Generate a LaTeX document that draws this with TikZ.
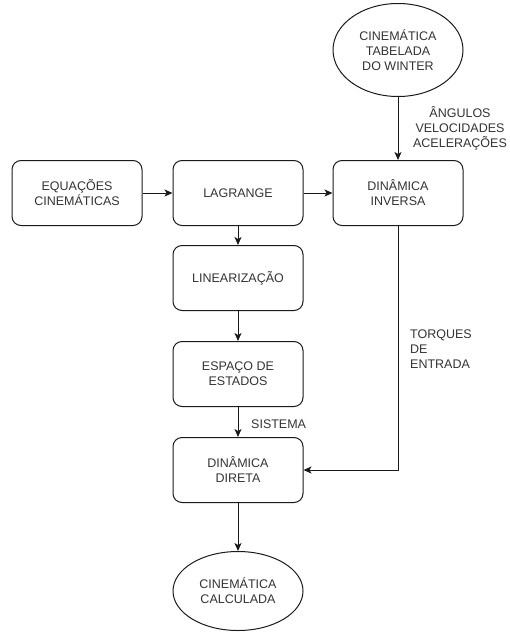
\documentclass[tikz,border=0pt]{standalone}
\usepackage{fontspec}
\setmainfont{Liberation Sans}
\usetikzlibrary{shapes.geometric,arrows.meta}
\definecolor{txt}{HTML}{333333}
\definecolor{ln}{HTML}{1A1A1A}
\tikzset{
  box/.style={draw=ln, line width=1pt, rounded corners=9pt, minimum width=130pt, minimum height=65pt, align=center, text=txt, font=\fontsize{12.5}{15}\selectfont, inner sep=0pt},
  oval/.style={draw=ln, line width=1pt, ellipse, minimum width=130pt, align=center, text=txt, font=\fontsize{12.5}{15}\selectfont, inner sep=0pt},
  conn/.style={draw=ln, line width=1pt, -{Stealth[length=8pt,width=7pt,inset=2pt]}},
  lbl/.style={text=txt, font=\fontsize{12.5}{15}\selectfont, inner sep=0pt}
}
\begin{document}
\begin{tikzpicture}[x=1pt,y=-1pt]
\useasboundingbox (0,0) rectangle (509,632);
\node[oval, minimum height=93pt] (cwin) at (398,50) {CINEMÁTICA\\TABELADA\\DO WINTER};
\node[box] (eq) at (77,193) {EQUAÇÕES\\CINEMÁTICAS};
\node[box] (lag) at (238,193) {LAGRANGE};
\node[box] (inv) at (398,193) {DINÂMICA\\INVERSA};
\node[box] (lin) at (238,278) {LINEARIZAÇÃO};
\node[box] (esp) at (238,374) {ESPAÇO DE\\ESTADOS};
\node[box] (dir) at (238,470) {DINÂMICA\\DIRETA};
\node[oval, minimum height=79pt] (ccal) at (238,591) {CINEMÁTICA\\CALCULADA};
\coordinate (corner) at (398,470);
\draw[conn] (cwin) -- (inv);
\draw[conn] (eq) -- (lag);
\draw[conn] (lag) -- (inv);
\draw[conn] (lag) -- (lin);
\draw[conn] (lin) -- (esp);
\draw[conn] (esp) -- (dir);
\draw[conn] (dir) -- (ccal);
\draw[conn] (inv.south) -- (corner) -- (dir.east);
\node[lbl, align=center] (angl) at (460,128) {ÂNGULOS\\VELOCIDADES\\ACELERAÇÕES};
\node[lbl, align=left, anchor=west] (torq) at (410,349) {TORQUES\\DE\\ENTRADA};
\node[lbl, anchor=west] (sist) at (251,424) {SISTEMA};
\end{tikzpicture}
\end{document}
